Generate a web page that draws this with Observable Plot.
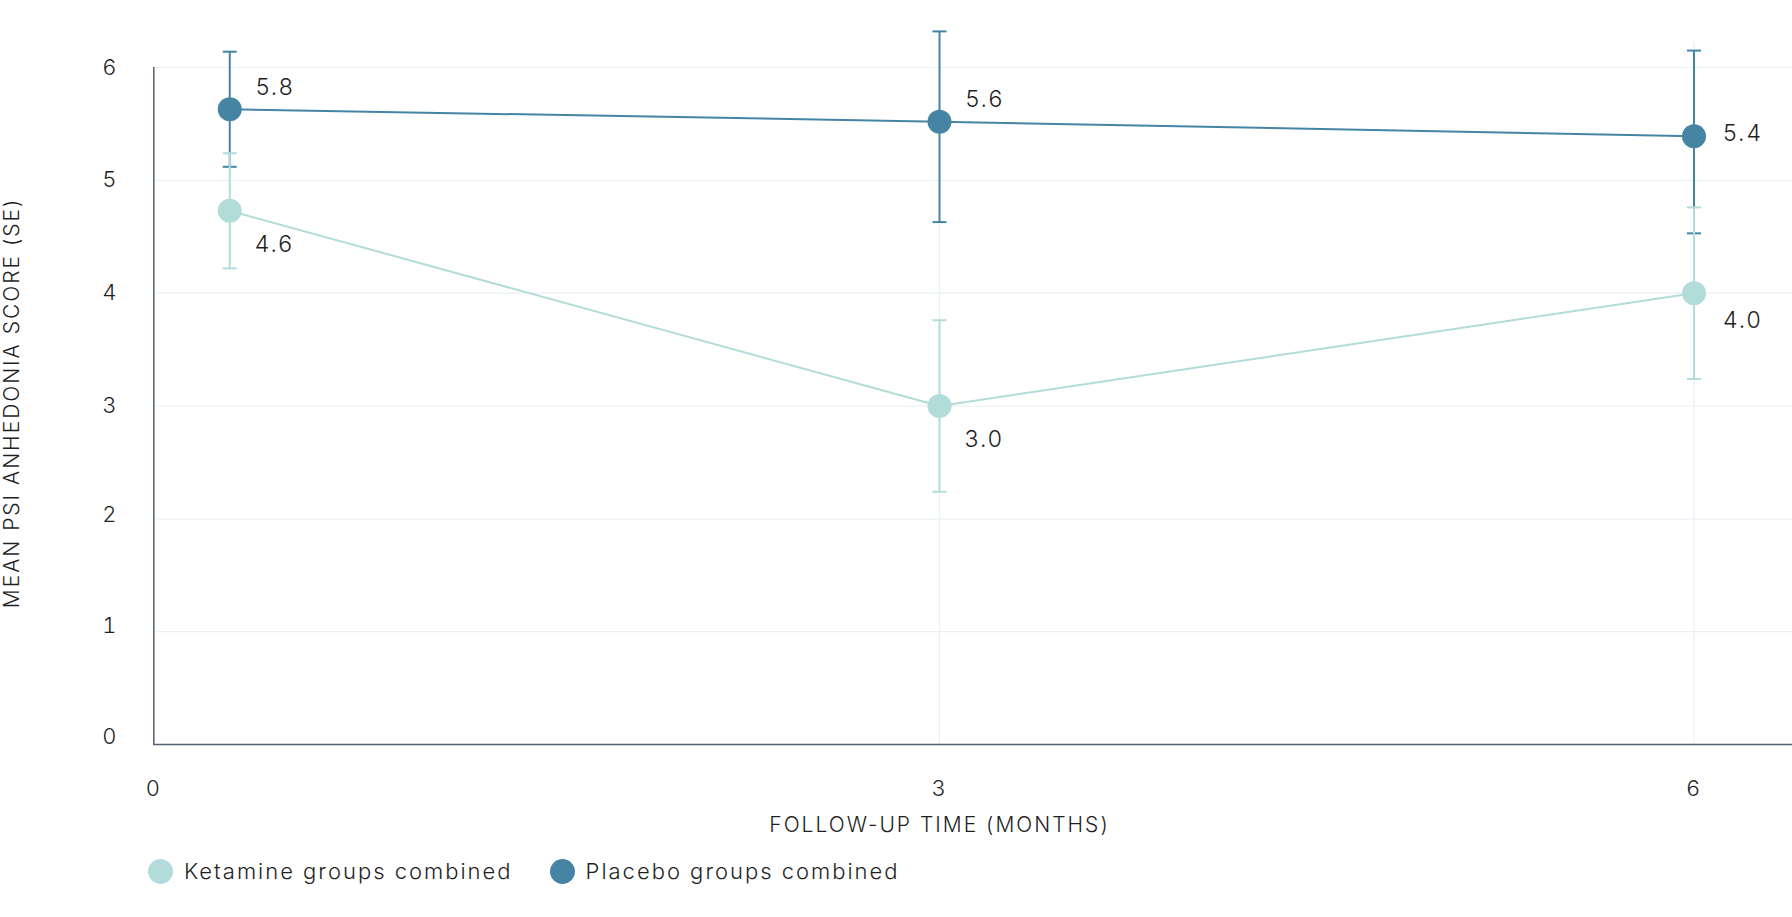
<!DOCTYPE html>
<html>
<head>
<meta charset="utf-8">
<script src="https://cdn.jsdelivr.net/npm/d3@7"></script>
<script src="https://cdn.jsdelivr.net/npm/@observablehq/plot@0.6"></script>
<style>
  html, body { margin: 0; padding: 0; background: #fff; }
  body { font-family: Inter, "Noto Sans", sans-serif; font-weight: 300; color: #1f1f1f; }
  #chart svg { display: block; }
  #chart svg text { letter-spacing: 2px; }
  .legend { display: flex; align-items: center; padding-left: 148px; margin-top: 8px; height: 26px; font-size: 22px; letter-spacing: 2px; }
  .legend .item { display: flex; align-items: center; margin-right: 37px; }
  .legend .sw { width: 25px; height: 25px; border-radius: 50%; margin-right: 11px; }
</style>
</head>
<body>
<div id="chart"></div>
<div class="legend" id="legend"></div>
<script>
// ---- data ----
const months = [0.29, 3, 6];
const xTicks = [0, 3, 6];
const yTicks = [0, 1, 2, 3, 4, 5, 6];
const seriesNames = ["Ketamine groups combined", "Placebo groups combined"];
const seriesColors = ["#b1dcd9", "#4684a4"];

const ketamineMean = [4.73, 3.0, 4.0];
const ketamineLow = [4.22, 2.24, 3.24];
const ketamineHigh = [5.24, 3.76, 4.76];
const ketamineLabels = ["4.6", "3.0", "4.0"];

const placeboMean = [5.63, 5.52, 5.39];
const placeboLow = [5.12, 4.63, 4.53];
const placeboHigh = [6.14, 6.32, 6.15];
const placeboLabels = ["5.8", "5.6", "5.4"];

const xTitle = "FOLLOW-UP TIME (MONTHS)";
const yTitle = "MEAN PSI ANHEDONIA SCORE (SE)";

// ---- tables built from the arrays ----
const ketamine = months.map((m, i) => ({month: m, mean: ketamineMean[i], low: ketamineLow[i], high: ketamineHigh[i], label: ketamineLabels[i], i}));
const placebo = months.map((m, i) => ({month: m, mean: placeboMean[i], low: placeboLow[i], high: placeboHigh[i], label: placeboLabels[i], i}));

const kCol = seriesColors[0], pCol = seriesColors[1];
const gridCol = "#e9f0f6";
const axisCol = "#526173";
const textCol = "#1f1f1f";

const capSymbol = {
  draw(context, size) {
    const w = Math.sqrt(size / Math.PI);
    context.moveTo(-w, 0);
    context.lineTo(w, 0);
  }
};

function seriesMarks(data, color) {
  return [
    Plot.ruleX(data, {x: "month", y1: "low", y2: "high", stroke: color, strokeWidth: 2}),
    Plot.dot(data, {x: "month", y: "high", symbol: capSymbol, r: 7, stroke: color, strokeWidth: 2, fill: "none"}),
    Plot.dot(data, {x: "month", y: "low", symbol: capSymbol, r: 7, stroke: color, strokeWidth: 2, fill: "none"})
  ];
}

const yAxisOpts = {tickSize: 0, tickPadding: 35, label: null, tickFormat: d => String(d)};

const chart = Plot.plot({
  width: 1792,
  height: 850,
  marginLeft: 153,
  marginRight: 0,
  marginTop: 67,
  marginBottom: 106,
  style: {fontFamily: "Inter, 'Noto Sans', sans-serif", fontSize: "22px", fontWeight: 300, color: textCol, background: "#fff"},
  x: {type: "linear", domain: [0, 3, 6], range: [153.3, 939, 1693.5]},
  y: {domain: [0, 6]},
  marks: [
    Plot.ruleY(yTicks.filter(d => d > 0), {stroke: gridCol, strokeWidth: 1.2}),
    Plot.ruleX(xTicks.filter(d => d > 0), {y1: 0, y2: 6.22, stroke: gridCol, strokeWidth: 1.2}),
    Plot.ruleY([0], {stroke: axisCol, strokeWidth: 1.5}),
    Plot.ruleX([0], {y1: 0, y2: 6, stroke: axisCol, strokeWidth: 1.5}),
    Plot.axisY({...yAxisOpts, ticks: yTicks.filter(d => d >= 3)}),
    Plot.axisY({...yAxisOpts, ticks: [2], dy: -4}),
    Plot.axisY({...yAxisOpts, ticks: [1], dy: -6}),
    Plot.axisY({...yAxisOpts, ticks: [0], dy: -8}),
    Plot.axisX({ticks: xTicks, tickSize: 0, tickPadding: 36, label: null, tickFormat: d => String(d)}),
    Plot.text([xTitle], {x: 3, frameAnchor: "bottom", dy: 87, fontSize: 21, fill: textCol}),
    Plot.text([yTitle], {frameAnchor: "left", textAnchor: "middle", rotate: -90, dx: -141.5, dy: -3, fontSize: 21, fill: textCol}),
    Plot.line(ketamine, {x: "month", y: "mean", stroke: kCol, strokeWidth: 2}),
    Plot.line(placebo, {x: "month", y: "mean", stroke: pCol, strokeWidth: 2}),
    ...seriesMarks(placebo, pCol),
    ...seriesMarks(ketamine, kCol),
    Plot.dot(ketamine, {x: "month", y: "mean", r: 12, fill: kCol}),
    Plot.dot(placebo, {x: "month", y: "mean", r: 12, fill: pCol}),
    Plot.text(placebo.filter(d => d.i < 2), {x: "month", y: "mean", text: "label", textAnchor: "start", dx: 26, dy: -22, fontSize: 23, fill: textCol}),
    Plot.text(placebo.filter(d => d.i === 2), {x: "month", y: "mean", text: "label", textAnchor: "start", dx: 29, dy: -3, fontSize: 23, fill: textCol}),
    Plot.text(ketamine.filter(d => d.i < 2), {x: "month", y: "mean", text: "label", textAnchor: "start", dx: 25, dy: 34, fontSize: 23, fill: textCol}),
    Plot.text(ketamine.filter(d => d.i === 2), {x: "month", y: "mean", text: "label", textAnchor: "start", dx: 29, dy: 27, fontSize: 23, fill: textCol})
  ]
});
document.getElementById("chart").appendChild(chart);

const legend = document.getElementById("legend");
seriesNames.forEach((name, i) => {
  const item = document.createElement("div");
  item.className = "item";
  const sw = document.createElement("span");
  sw.className = "sw";
  sw.style.background = seriesColors[i];
  const label = document.createElement("span");
  label.textContent = name;
  item.appendChild(sw);
  item.appendChild(label);
  legend.appendChild(item);
});
</script>
</body>
</html>
